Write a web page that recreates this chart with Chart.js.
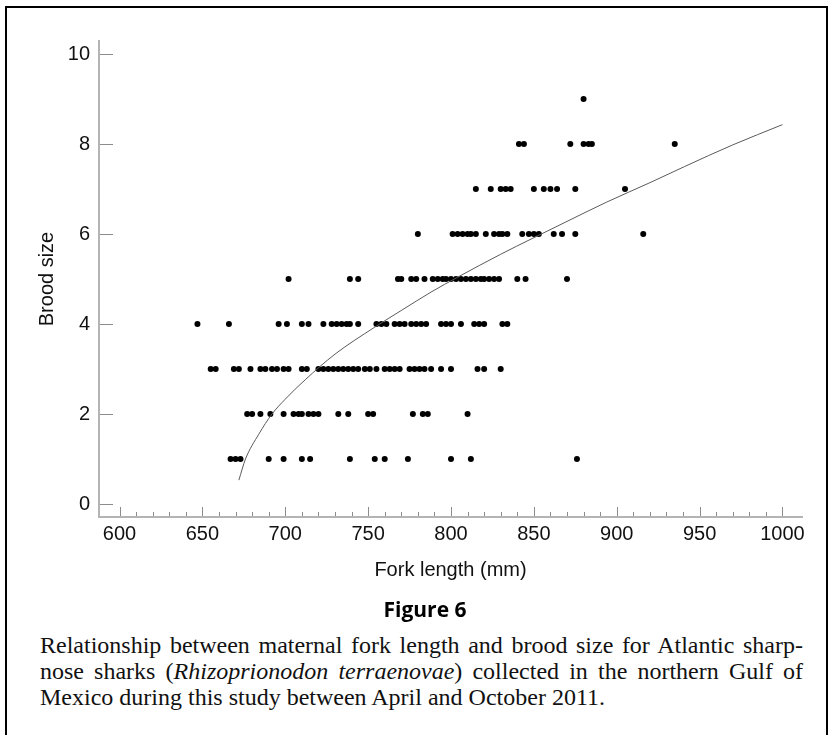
<!DOCTYPE html>
<html>
<head>
<meta charset="utf-8">
<title>Figure 6</title>
<script src="https://cdn.jsdelivr.net/npm/chart.js@4.4.1/dist/chart.umd.min.js"></script>
<style>
  html, body { margin: 0; padding: 0; background: #fff; }
  #page { position: relative; width: 828px; height: 735px; overflow: hidden; }
  #frame { position: absolute; left: 5px; top: 6px; right: 0; bottom: 0;
           border-left: 2px solid #000; border-top: 2px solid #000; border-right: 2px solid #000; }
  #chartBox { position: absolute; left: 0; top: 0; width: 828px; height: 600px; }
  #brood-chart { display: block; width: 828px; height: 600px; }
  #figTitle { position: absolute; left: 425px; top: 599px; transform: translateX(-50%);
              font-family: "Open Sans", "Noto Sans", sans-serif; font-weight: 700;
              font-size: 21px; line-height: 21px; color: #000; white-space: nowrap; }
  #caption { position: absolute; left: 40px; top: 632px; width: 763px;
             font-family: "Liberation Serif", "Times New Roman", serif;
             font-size: 24px; line-height: 26px; color: #111; }
  #caption .ln { text-align: justify; text-align-last: justify; }
  #caption .ln.last { text-align: left; text-align-last: left; }
</style>
</head>
<body>
<div id="page">
  <div id="frame"></div>
  <div id="chartBox"><canvas id="brood-chart" width="828" height="600"></canvas></div>
  <div id="figTitle">Figure 6</div>
  <div id="caption">
    <div class="ln">Relationship between maternal fork length and brood size for Atlantic sharp-</div>
    <div class="ln">nose sharks (<i>Rhizoprionodon terraenovae</i>) collected in the northern Gulf of</div>
    <div class="ln last">Mexico during this study between April and October 2011.</div>
  </div>
</div>
<script>
// Fork lengths (mm) of the females, one list per brood size.
const fl1 = [667, 670, 673, 690, 699, 710, 715, 739, 754, 760, 774, 800, 812, 876];
const fl2 = [677, 680, 685, 691, 699, 705, 708, 710, 714, 717, 720, 732, 738, 750, 753, 777, 783, 786, 810];
const fl3 = [655, 658, 669, 672, 679, 685, 688, 692, 695, 699, 702, 710, 713, 720, 723, 726, 729, 732, 735,
             738, 741, 744, 748, 751, 755, 760, 763, 766, 769, 775, 778, 781, 784, 788, 794, 800, 816, 820, 830];
const fl4 = [647, 666, 696, 701, 710, 714, 723, 728, 731, 734, 737, 739, 744, 755, 758, 761, 766, 769, 772,
             776, 779, 782, 785, 794, 797, 800, 806, 814, 817, 820, 831, 834];
const fl5 = [702, 739, 744, 768, 770, 776, 779, 784, 789, 792, 795, 797, 800, 803, 806, 809, 812, 815, 818,
             820, 823, 826, 829, 840, 845, 870];
const fl6 = [780, 801, 804, 807, 810, 812, 815, 821, 826, 829, 831, 834, 843, 847, 850, 853, 862, 867, 875, 916];
const fl7 = [815, 824, 830, 833, 836, 850, 856, 860, 864, 875, 905];
const fl8 = [841, 844, 872, 880, 883, 885, 935];
const fl9 = [880];

const broodSizes = [1, 2, 3, 4, 5, 6, 7, 8, 9];
const broodRows = [fl1, fl2, fl3, fl4, fl5, fl6, fl7, fl8, fl9];

// Fitted curve.
const fitX = [672, 676, 684, 692, 700, 712, 730, 754, 770, 788, 804, 830, 849, 870, 894, 920, 941, 970, 1000];
const fitY = [0.53, 1.0, 1.55, 2.0, 2.33, 2.76, 3.33, 3.93, 4.3, 4.71, 5.04, 5.55, 5.9, 6.28, 6.71, 7.14, 7.5, 7.98, 8.43];

const xTickValues = [600, 650, 700, 750, 800, 850, 900, 950, 1000];
const yTickValues = [0, 2, 4, 6, 8, 10];

var points = [];
broodRows.forEach(function (row, i) {
    row.forEach(function (fl) {
        points.push({x: fl, y: broodSizes[i]});
    });
});
var fitPoints = fitX.map(function (x, i) {
    return {x: x, y: fitY[i]};
});

// minor ticks every 10 mm between the labelled ones
var xMinor = [];
for (var k = 0; k < xTickValues.length - 1; k++) {
    var step = (xTickValues[k + 1] - xTickValues[k]) / 5;
    for (var m = 1; m < 5; m++) {
        xMinor.push(xTickValues[k] + m * step);
    }
}

const axisFont = {family: '"Liberation Sans", Arial, sans-serif', size: 20};

// Ticks point into the plot, so they are drawn here instead of by the scales.
const inwardTicks = {
    id: 'inwardTicks',
    beforeDatasetsDraw: function (chart) {
        var ctx = chart.ctx;
        var xs = chart.scales.x, ys = chart.scales.y;
        var area = chart.chartArea;
        ctx.save();
        ctx.strokeStyle = '#8c8c8c';
        ctx.lineWidth = 1;
        ctx.beginPath();
        yTickValues.forEach(function (v) {
            var py = Math.round(ys.getPixelForValue(v)) + 0.5;
            ctx.moveTo(area.left + 1, py);
            ctx.lineTo(area.left + 14, py);
        });
        xTickValues.forEach(function (v) {
            var px = Math.round(xs.getPixelForValue(v)) + 0.5;
            ctx.moveTo(px, area.bottom - 1);
            ctx.lineTo(px, area.bottom - 10);
        });
        xMinor.forEach(function (v) {
            var px = Math.round(xs.getPixelForValue(v)) + 0.5;
            ctx.moveTo(px, area.bottom - 1);
            ctx.lineTo(px, area.bottom - 5);
        });
        ctx.stroke();
        ctx.restore();
    }
};

new Chart(document.getElementById('brood-chart').getContext('2d'), {
    type: 'scatter',
    data: {
        datasets: [{
            type: 'line',
            label: 'Fit',
            data: fitPoints,
            borderColor: '#5a5a5a',
            borderWidth: 1,
            pointRadius: 0,
            fill: false,
            cubicInterpolationMode: 'monotone'
        }, {
            label: 'Brood size',
            data: points,
            pointRadius: 3,
            pointBorderWidth: 0,
            pointBackgroundColor: '#000',
            pointBorderColor: '#000'
        }]
    },
    options: {
        responsive: false,
        animation: false,
        maintainAspectRatio: false,
        devicePixelRatio: 1,
        layout: {padding: {left: 0, top: 41, right: 26, bottom: 0}},
        scales: {
            x: {
                type: 'linear',
                min: 587.6,
                max: 1011.8,
                afterBuildTicks: function (scale) {
                    scale.ticks = xTickValues.map(function (v) { return {value: v}; });
                },
                afterFit: function (scale) { scale.height = 83; },
                grid: {display: false, drawTicks: false},
                border: {display: true, color: '#b4b4b4', width: 2},
                ticks: {
                    padding: 5, color: '#111', font: axisFont, maxRotation: 0, autoSkip: false,
                    callback: function (val) { return String(val); }
                },
                title: {display: true, text: 'Fork length (mm)', color: '#111', font: axisFont,
                        padding: {top: 0, bottom: 18}}
            },
            y: {
                type: 'linear',
                min: -0.289,
                max: 10.289,
                afterBuildTicks: function (scale) {
                    scale.ticks = yTickValues.map(function (v) { return {value: v}; });
                },
                afterFit: function (scale) { scale.width = 99; },
                grid: {display: false, drawTicks: false},
                border: {display: true, color: '#b4b4b4', width: 2},
                ticks: {padding: 9, color: '#111', font: axisFont},
                title: {display: true, text: 'Brood size', color: '#111', font: axisFont,
                        padding: {top: 35, bottom: 0}}
            }
        },
        plugins: {
            legend: {display: false},
            tooltip: {enabled: false}
        }
    },
    plugins: [inwardTicks]
});
</script>
</body>
</html>
